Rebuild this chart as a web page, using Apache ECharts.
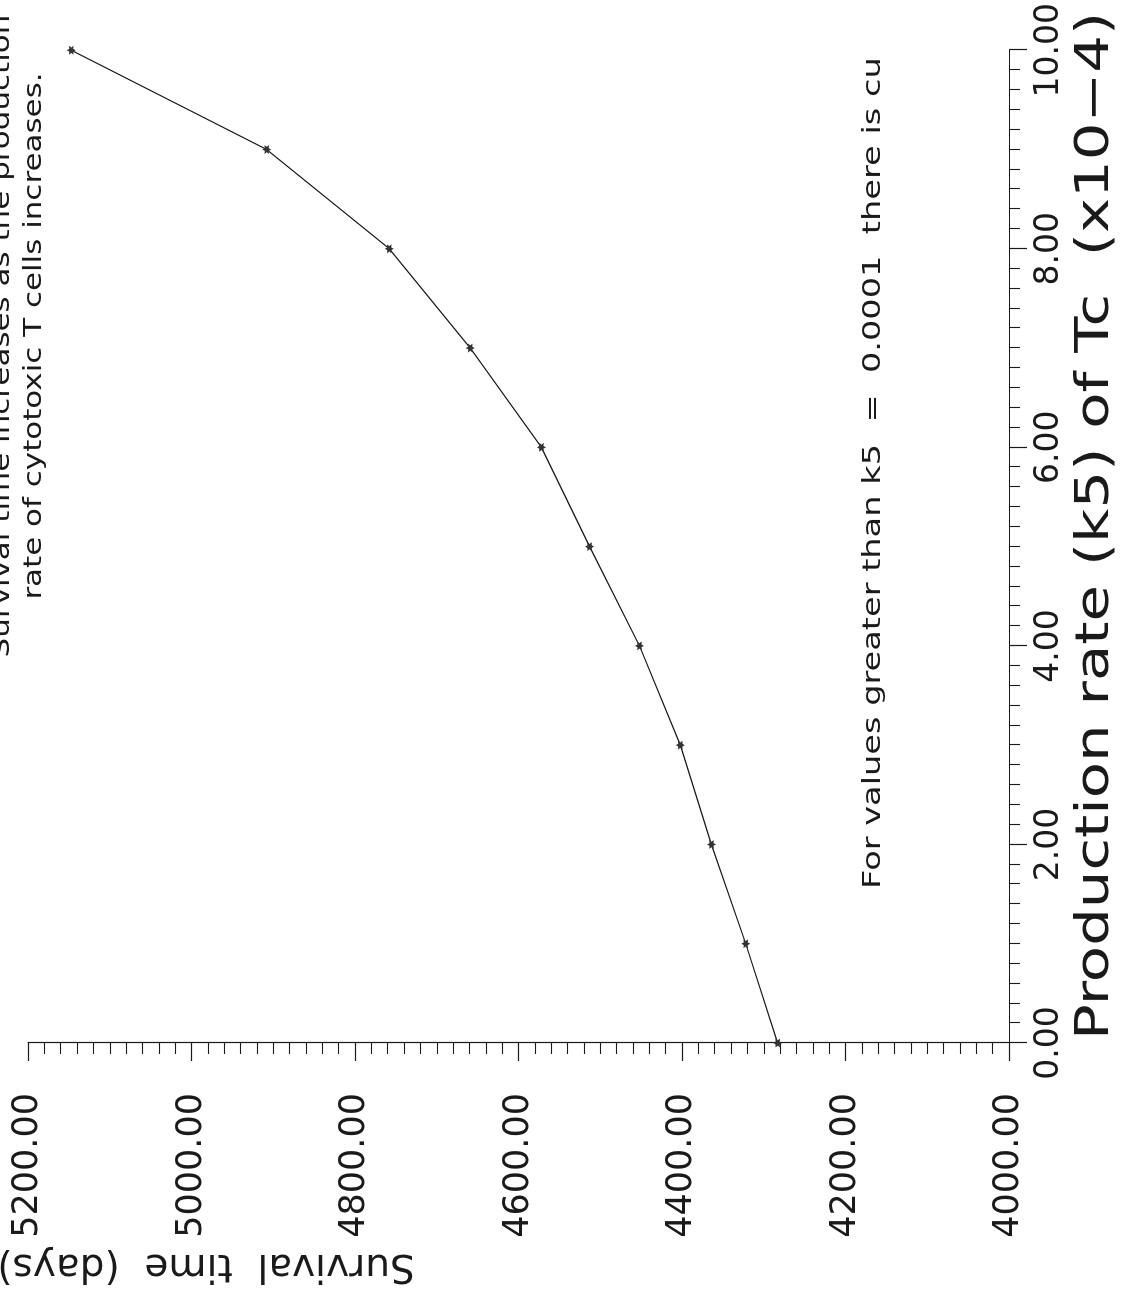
<!DOCTYPE html>
<html>
<head>
<meta charset="utf-8">
<title>Survival time vs production rate of Tc</title>
<script src="https://cdn.jsdelivr.net/npm/echarts@6/dist/echarts.min.js"></script>
<style>
  html, body { margin: 0; padding: 0; background: #fff; }
  body { width: 1122px; height: 1304px; overflow: hidden; position: relative; }
  /* the scanned figure is turned a quarter turn, so draw it upright and rotate the box */
  #chart {
    position: absolute; left: 0; top: 0;
    width: 1304px; height: 1122px;
    transform-origin: 0 0;
    transform: rotate(-90deg) translate(-1304px, 0);
  }
</style>
</head>
<body>
<div id="chart"></div>
<script>
// production rate k5 (x10^-4)
var k5Values = [0, 1, 2, 3, 4, 5, 6, 7, 8, 9, 10];
// survival time (days)
var survivalDays = [4283, 4322, 4364, 4402, 4452, 4513, 4572, 4659, 4758, 4908, 5147];

var xTicks = [0, 2, 4, 6, 8, 10];
var yTicks = [4000, 4200, 4400, 4600, 4800, 5000, 5200];

var titleLines = ['Survival time increases as the production', 'rate of cytotoxic T cells increases.'];
var noteText = 'For values greater than k5  =  0.0001  there is cu';
var xName = 'Production rate (k5) of Tc  (x10\u22124)';
var yName = 'Survival  time  (days)';

var fontFam = 'DejaVu Sans';
var ink = '#1a1a1a';

var chartDom = document.getElementById('chart');
var myChart = echarts.init(chartDom);

var seriesData = k5Values.map(function (k, i) { return [k, survivalDays[i]]; });

var star = 'path://M0,-10 L2.6,-4.5 L8.7,-5 L5.2,0 L8.7,5 L2.6,4.5 L0,10 L-2.6,4.5 L-8.7,5 L-5.2,0 L-8.7,-5 L-2.6,-4.5 Z';

// plotter lettering is wider than DejaVu, so the free texts get stretched along the line
var option = {
  backgroundColor: '#fff',
  animation: false,
  grid: { left: 261, right: 48, top: 28, bottom: 113 },
  xAxis: {
    type: 'value',
    min: xTicks[0],
    max: xTicks[xTicks.length - 1],
    interval: xTicks[1] - xTicks[0],
    axisLine: { lineStyle: { color: ink, width: 1.2 } },
    axisTick: { length: 18, lineStyle: { color: ink, width: 1.2 } },
    minorTick: { show: true, splitNumber: 10, length: 11, lineStyle: { color: ink, width: 1.1 } },
    splitLine: { show: false },
    axisLabel: {
      margin: 24,
      color: ink,
      fontFamily: fontFam,
      fontSize: 33,
      formatter: function (v) { return v.toFixed(2); }
    }
  },
  yAxis: {
    type: 'value',
    min: yTicks[0],
    max: yTicks[yTicks.length - 1],
    interval: yTicks[1] - yTicks[0],
    axisLine: { show: true, lineStyle: { color: ink, width: 1.2 } },
    axisTick: { show: true, length: 18, lineStyle: { color: ink, width: 1.2 } },
    minorTick: { show: true, splitNumber: 10, length: 11, lineStyle: { color: ink, width: 1.1 } },
    splitLine: { show: false },
    axisLabel: {
      margin: 50,
      color: ink,
      fontFamily: fontFam,
      fontSize: 35,
      formatter: function (v) { return v.toFixed(2); }
    }
  },
  graphic: [
    {
      type: 'text', x: 264, y: 1096, scaleX: 1.29,
      style: { text: xName, fontFamily: fontFam, fontSize: 46, fill: ink, align: 'left', verticalAlign: 'middle' }
    },
    {
      type: 'text', x: 39, y: 206, rotation: Math.PI / 2,
      style: { text: yName, fontFamily: fontFam, fontSize: 39, fill: ink, align: 'center', verticalAlign: 'middle' }
    },
    {
      type: 'text', x: 968, y: 15, scaleX: 1.29,
      style: { text: titleLines[0], fontFamily: fontFam, fontSize: 24, fill: ink, align: 'center', verticalAlign: 'bottom' }
    },
    {
      type: 'text', x: 968, y: 47, scaleX: 1.29,
      style: { text: titleLines[1], fontFamily: fontFam, fontSize: 24, fill: ink, align: 'center', verticalAlign: 'bottom' }
    },
    {
      type: 'text', x: 415, y: 886, scaleX: 1.4,
      style: { text: noteText, fontFamily: fontFam, fontSize: 24, fill: ink, align: 'left', verticalAlign: 'bottom' }
    }
  ],
  series: [
    {
      type: 'line',
      data: seriesData,
      symbol: star,
      symbolSize: 9,
      itemStyle: { color: '#333' },
      lineStyle: { color: ink, width: 1.2 }
    }
  ]
};

option && myChart.setOption(option);
</script>
</body>
</html>
